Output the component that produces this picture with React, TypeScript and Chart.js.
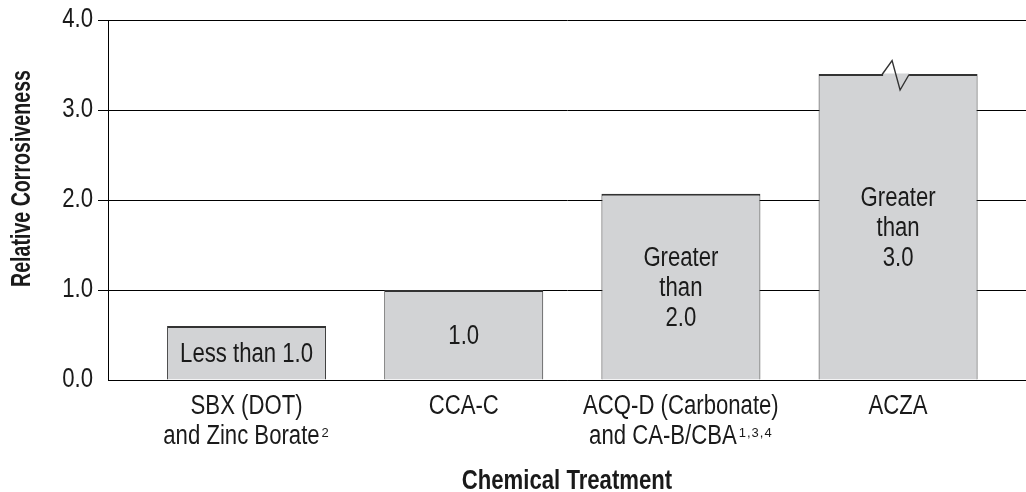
import React, { useEffect, useRef } from "react";
import { Chart, registerables } from "chart.js";

Chart.register(...registerables);

// ---- data ----
const categoryLines: string[][] = [
  ["SBX (DOT)", "and Zinc Borate"],
  ["CCA-C"],
  ["ACQ-D (Carbonate)", "and CA-B/CBA"],
  ["ACZA"],
];
const categoryNotes: string[][] = [["", "2"], [""], ["", "1,3,4"], [""]];
const values: number[] = [0.6, 1.0, 2.07, 3.4];
const barTexts: string[][] = [
  ["Less than 1.0"],
  ["1.0"],
  ["Greater", "than", "2.0"],
  ["Greater", "than", "3.0"],
];
const brokenBars: boolean[] = [false, false, false, true];
const yTickValues: number[] = [0, 1, 2, 3, 4];
const yTitle = "Relative Corrosiveness";
const xTitle = "Chemical Treatment";

// ---- style ----
const FONT = "'Liberation Sans', Arial, sans-serif";
const NARROW = 0.82;
const TEXT = "#1a1a1a";
const BAR_FILL = "#d2d3d5";
const BAR_BORDER = "#333333";

function narrowText(ctx: CanvasRenderingContext2D, t: string, x: number, y: number) {
  const w = ctx.measureText(t).width;
  ctx.fillText(t, x, y, w * NARROW);
}

const annotate = {
  id: "annotate",
  afterDatasetsDraw(chart: any) {
    const ctx: CanvasRenderingContext2D = chart.ctx;
    const meta = chart.getDatasetMeta(0);
    const area = chart.chartArea;
    ctx.save();
    ctx.fillStyle = TEXT;

    // bar texts and broken-bar marker
    meta.data.forEach((bar: any, i: number) => {
      const { x, y, base } = bar.getProps(["x", "y", "base"], true);
      if (brokenBars[i]) {
        ctx.fillStyle = BAR_FILL;
        ctx.fillRect(x - 15, y - 0.5, 26, 3);
        ctx.beginPath();
        ctx.moveTo(x - 16, y + 0.5);
        ctx.lineTo(x - 6, y - 13.5);
        ctx.lineTo(x + 2, y + 16);
        ctx.lineTo(x + 11, y + 0.5);
        ctx.strokeStyle = BAR_BORDER;
        ctx.lineWidth = 1.4;
        ctx.lineJoin = "miter";
        ctx.stroke();
      }
      const lines = barTexts[i];
      const mid = (y + base) / 2;
      ctx.font = `27px ${FONT}`;
      ctx.fillStyle = TEXT;
      ctx.textAlign = "center";
      ctx.textBaseline = "alphabetic";
      lines.forEach((t, k) => {
        const capCenter = mid + (k - (lines.length - 1) / 2) * 30;
        narrowText(ctx, t, x, capCenter + 9.7);
      });
    });

    // category labels with superscript notes
    const xs = chart.scales.x;
    categoryLines.forEach((lines, i) => {
      const cx = xs.getPixelForValue(i);
      lines.forEach((t, k) => {
        const baseline = xs.top + 33.5 + k * 30;
        const note = categoryNotes[i][k];
        ctx.font = `27px ${FONT}`;
        const w1 = ctx.measureText(t).width * NARROW;
        ctx.font = `13px ${FONT}`;
        (ctx as any).letterSpacing = "1px";
        const w2 = note ? ctx.measureText(note).width + 2 : 0;
        (ctx as any).letterSpacing = "0px";
        const start = cx - (w1 + w2) / 2;
        ctx.textAlign = "left";
        ctx.textBaseline = "alphabetic";
        ctx.fillStyle = TEXT;
        ctx.font = `27px ${FONT}`;
        narrowText(ctx, t, start, baseline);
        if (note) {
          ctx.font = `13px ${FONT}`;
          (ctx as any).letterSpacing = "1px";
          ctx.fillText(note, start + w1 + 2, baseline - 7);
          (ctx as any).letterSpacing = "0px";
        }
      });
    });

    // y tick labels
    const ys = chart.scales.y;
    ctx.font = `27px ${FONT}`;
    ctx.textAlign = "right";
    ctx.textBaseline = "middle";
    yTickValues.forEach((v) => {
      narrowText(ctx, v.toFixed(1), area.left - 15, ys.getPixelForValue(v));
    });

    // x-axis title
    ctx.font = `bold 27px ${FONT}`;
    ctx.textAlign = "center";
    ctx.textBaseline = "alphabetic";
    narrowText(ctx, xTitle, (area.left + area.right) / 2, 489);

    // y-axis title
    ctx.translate(23, 178.5);
    ctx.rotate(-Math.PI / 2);
    ctx.font = `bold 27px ${FONT}`;
    ctx.textAlign = "center";
    ctx.textBaseline = "middle";
    ctx.fillText(yTitle, 0, 0, 217);
    ctx.restore();
  },
};

export default function App() {
  const canvasRef = useRef<HTMLCanvasElement | null>(null);

  useEffect(() => {
    if (!canvasRef.current) return;
    const chart = new Chart(canvasRef.current, {
      type: "bar",
      data: {
        datasets: [
          {
            data: values.map((v, i) => ({ x: i, y: v })),
            backgroundColor: BAR_FILL,
            borderColor: BAR_BORDER,
            borderWidth: { top: 2, left: 1, right: 1, bottom: 0 } as any,
            borderSkipped: "start",
            barPercentage: 1,
            categoryPercentage: 0.732,
          },
        ],
      },
      options: {
        responsive: false,
        devicePixelRatio: 1,
        animation: false,
        layout: { padding: { top: 20, left: 0, right: 0, bottom: 0 } },
        plugins: { legend: { display: false }, tooltip: { enabled: false } },
        scales: {
          x: {
            type: "linear",
            offset: false,
            min: -0.638,
            max: 3.589,
            afterBuildTicks: (s: any) => {
              s.ticks = categoryLines.map((_, i) => ({ value: i }));
            },
            afterFit: (s: any) => {
              s.height = 112;
            },
            grid: { display: false, drawTicks: false, offset: false },
            border: { display: true, color: "#000", width: 1 },
            ticks: { display: false },
          },
          y: {
            min: 0,
            max: 4,
            afterBuildTicks: (s: any) => {
              s.ticks = yTickValues.map((v) => ({ value: v }));
            },
            afterFit: (s: any) => {
              s.width = 108;
            },
            ticks: { display: false },
            grid: {
              color: "#000",
              lineWidth: 1,
              tickLength: 10,
              tickColor: (c: any) => (c.tick && c.tick.value === 0 ? "rgba(0,0,0,0)" : "#000"),
            },
            border: { display: true, color: "#000", width: 1 },
          },
        },
      },
      plugins: [annotate],
    } as any);
    return () => chart.destroy();
  }, []);

  return (
    <div style={{ position: "absolute", left: 0, top: 0, width: 1026, height: 492, background: "#fff" }}>
      <canvas ref={canvasRef} width={1026} height={492} style={{ display: "block" }} />
    </div>
  );
}
